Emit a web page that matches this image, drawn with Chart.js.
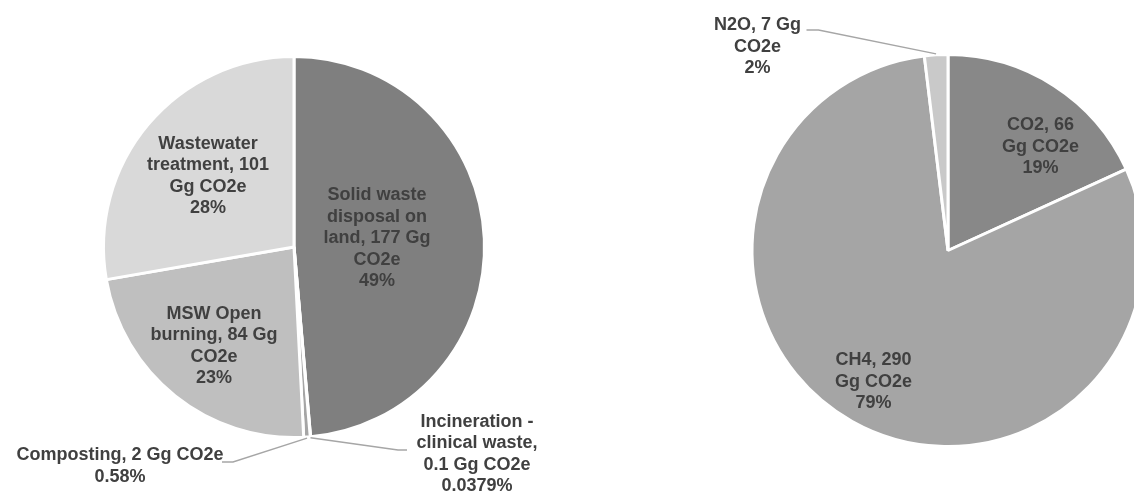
<!DOCTYPE html>
<html>
<head>
<meta charset="utf-8">
<script src="https://cdn.jsdelivr.net/npm/chart.js@4.4.1/dist/chart.umd.min.js"></script>
<style>
  html, body { margin: 0; padding: 0; background: #ffffff; }
  body { width: 1134px; height: 493px; overflow: hidden; position: relative; }
  .wrap { position: absolute; top: 0; }
  #w1 { left: 0; width: 588px; height: 493px; }
  #w2 { left: 648px; width: 600px; height: 493px; }
</style>
</head>
<body>
<div class="wrap" id="w1"><canvas id="c1" width="588" height="493"></canvas></div>
<div class="wrap" id="w2"><canvas id="c2" width="600" height="493"></canvas></div>
<script>
// ---- Data: left pie (emissions by source) ----
const sourceCategories = ["Solid waste disposal on land", "Incineration - clinical waste", "Composting", "MSW Open burning", "Wastewater treatment"];
const sourceValues = [177, 0.1, 2, 84, 101];
const sourcePercentLabels = ["49%", "0.0379%", "0.58%", "23%", "28%"];

// ---- Data: right pie (emissions by gas) ----
const gasCategories = ["CO2", "CH4", "N2O"];
const gasValues = [66, 290, 7];
const gasPercentLabels = ["19%", "79%", "2%"];

const unitLabel = "Gg CO2e";

// ---- Styles ----
const sourceColors = ["#7f7f7f", "#595959", "#a5a5a5", "#bfbfbf", "#d9d9d9"];
const gasColors = ["#888888", "#a5a5a5", "#c9c9c9"];
const LABEL_FONT = "bold 18px 'Liberation Sans', Arial, sans-serif";
const LABEL_COLOR = "#404040";
const LEADER_COLOR = "#a6a6a6";
const LINE_HEIGHT = 21.5;

function wrapText(ctx, text, maxWidth) {
  const words = text.split(" ");
  const lines = [];
  let cur = "";
  words.forEach(w => {
    const test = cur ? cur + " " + w : w;
    if (cur && ctx.measureText(test).width > maxWidth) {
      lines.push(cur);
      cur = w;
    } else {
      cur = test;
    }
  });
  if (cur) lines.push(cur);
  return lines;
}

const sliceLabelPlugin = {
  id: 'sliceLabels',
  afterDatasetsDraw(chart, args, opts) {
    const meta = chart.getDatasetMeta(0);
    const ctx = chart.ctx;
    const cats = chart.data.labels;
    const vals = chart.data.datasets[0].data;
    ctx.save();
    ctx.font = LABEL_FONT;
    ctx.textAlign = 'center';
    ctx.textBaseline = 'middle';
    meta.data.forEach((arc, i) => {
      const cx = arc.x, cy = arc.y, r = arc.outerRadius;
      const pos = opts.positions[i];
      const lx = cx + pos[0], ly = cy + pos[1];
      const leader = opts.leaders[i];
      if (leader) {
        const mid = (arc.startAngle + arc.endAngle) / 2;
        const sx = cx + Math.cos(mid) * (r + 1);
        const sy = cy + Math.sin(mid) * (r + 1);
        ctx.beginPath();
        ctx.strokeStyle = LEADER_COLOR;
        ctx.lineWidth = 1.4;
        ctx.moveTo(sx, sy);
        ctx.lineTo(cx + leader[0], cy + leader[1]);
        ctx.lineTo(cx + leader[2], cy + leader[3]);
        ctx.stroke();
      }
      const lines = wrapText(ctx, `${cats[i]}, ${vals[i]} ${unitLabel}`, opts.wrapWidths[i]);
      lines.push(opts.percents[i]);
      ctx.fillStyle = LABEL_COLOR;
      lines.forEach((ln, k) => {
        ctx.fillText(ln, lx, ly + (k - (lines.length - 1) / 2) * LINE_HEIGHT);
      });
    });
    ctx.restore();
  }
};

function makePie(canvasId, cats, vals, colors, padding, labelOpts) {
  return new Chart(document.getElementById(canvasId), {
    type: 'pie',
    data: {
      labels: cats,
      datasets: [{
        data: vals,
        backgroundColor: colors,
        borderColor: '#ffffff',
        borderWidth: 3
      }]
    },
    options: {
      responsive: false,
      animation: false,
      layout: { padding: padding },
      plugins: {
        legend: { display: false },
        tooltip: { enabled: false },
        sliceLabels: labelOpts
      }
    },
    plugins: [sliceLabelPlugin]
  });
}

makePie('c1', sourceCategories, sourceValues, sourceColors,
  { top: 55, bottom: 54, left: 0, right: 0 },
  {
    percents: sourcePercentLabels,
    wrapWidths: [130, 130, 240, 130, 130],
    positions: [[83, -8.5], [183, 207], [-174, 219], [-80, 99], [-86, -71]],
    leaders: [null, [104, 203, 113, 203], [-61, 215, -72, 215], null, null]
  });

makePie('c2', gasCategories, gasValues, gasColors,
  { top: 53, bottom: 45, left: 0, right: 0 },
  {
    percents: gasPercentLabels,
    wrapWidths: [92, 92, 92],
    positions: [[92.5, -103.5], [-74.5, 131.5], [-190.5, -203.5]],
    leaders: [null, null, [-129.5, -220.5, -141.5, -220.5]]
  });
</script>
</body>
</html>
